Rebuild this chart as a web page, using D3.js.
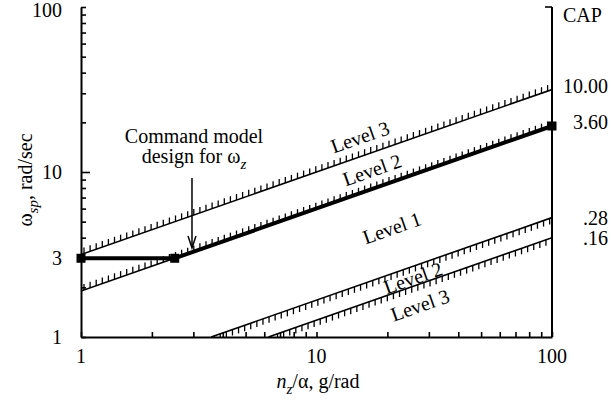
<!DOCTYPE html>
<html>
<head>
<meta charset="utf-8">
<script src="https://cdn.jsdelivr.net/npm/d3@7"></script>
<style>
  body { margin: 0; background: #fff; }
  text { font-family: "Liberation Serif", "Times New Roman", serif; fill: #000; }
</style>
</head>
<body>
<svg id="chart" width="611" height="404"></svg>
<script>
// CAP boundary lines (omega_sp vs n_z/alpha), straight in log-log
const capLabels = ["10.00", "3.60", ".28", ".16"];
const capStartN = [1, 1, 3.57, 6.25];
const capStartW = [3.16, 1.9, 1, 1];
const capEndN   = [100, 100, 100, 100];
const capEndW   = [31.6, 19, 5.29, 4];

// Command model design path
const cmdN = [1, 2.5, 100];
const cmdW = [3, 3, 19];

// Axis tick labels
const xTickLabels = [1, 10, 100];
const yTickLabels = [1, 3, 10, 100];

// Flying-quality level annotations
const levelText = ["Level 3", "Level 2", "Level 1", "Level 2", "Level 3"];

const svg = d3.select("#chart");
const FS = 20;

const x = d3.scaleLog().domain([1, 100]).range([81, 552]);
const y = d3.scaleLog().domain([1, 100]).range([337, 7]);

const minor = [];
[1, 10].forEach(d => { for (let k = 1; k <= 9; k++) minor.push(d * k); });
minor.push(100);

// Left axis (ticks pointing inward)
const gL = svg.append("g").attr("transform", `translate(${x(1)},0)`)
  .call(d3.axisRight(y).tickValues(minor).tickSize(5).tickSizeOuter(0).tickFormat(""));
gL.selectAll(".tick line").attr("x2", d => (d === 10 ? 9 : 5));
// Bottom axis
const gB = svg.append("g").attr("transform", `translate(0,${y(1)})`)
  .call(d3.axisTop(x).tickValues(minor).tickSize(5).tickSizeOuter(0).tickFormat(""));
[gL, gB].forEach(g => {
  g.select(".domain").attr("stroke-width", 2).attr("stroke", "#000");
  g.selectAll(".tick line").attr("stroke-width", 1.6).attr("stroke", "#000");
});
// Right axis with a tick at the top
svg.append("line").attr("x1", x(100)).attr("x2", x(100))
  .attr("y1", y(100)).attr("y2", y(1)).attr("stroke", "#000").attr("stroke-width", 2);
svg.append("line").attr("x1", x(100) - 7).attr("x2", x(100))
  .attr("y1", y(100)).attr("y2", y(100)).attr("stroke", "#000").attr("stroke-width", 1.6);

// Tick labels
svg.selectAll(".ylab").data(yTickLabels).enter().append("text")
  .attr("x", 62).attr("y", d => Math.max(y(d) + 7, 17)).attr("text-anchor", "end")
  .attr("font-size", FS).text(d => d);
svg.selectAll(".xlab").data(xTickLabels).enter().append("text")
  .attr("x", d => x(d)).attr("y", 363).attr("text-anchor", "middle")
  .attr("font-size", FS).text(d => d);

// Axis titles
const xt = svg.append("text").attr("x", 318).attr("y", 388)
  .attr("text-anchor", "middle").attr("font-size", FS);
xt.append("tspan").attr("font-style", "italic").text("n");
xt.append("tspan").attr("font-style", "italic").attr("font-size", 15).attr("dy", 6).text("z");
xt.append("tspan").attr("dy", -6).text("/\u03b1, g/rad");

const yt = svg.append("text").attr("transform", "translate(32,180) rotate(-90)")
  .attr("text-anchor", "middle").attr("font-size", FS);
yt.append("tspan").text("\u03c9");
yt.append("tspan").attr("font-style", "italic").attr("font-size", 15).attr("dy", 6).text("sp");
yt.append("tspan").attr("dy", -6).text(", rad/sec");

// Clip for hatching
svg.append("clipPath").attr("id", "plot").append("rect")
  .attr("x", x(1)).attr("y", 0).attr("width", x(100) - x(1)).attr("height", y(1));

// CAP boundary lines with hatching
const hatchSide = [-1, -1, 1, 1];
const gLines = svg.append("g").attr("clip-path", "url(#plot)");
capLabels.forEach((lab, i) => {
  const x0 = x(capStartN[i]), y0 = y(capStartW[i]);
  const x1 = x(capEndN[i]), y1 = y(capEndW[i]);
  gLines.append("line").attr("x1", x0).attr("y1", y0).attr("x2", x1).attr("y2", y1)
    .attr("stroke", "#000").attr("stroke-width", 1.6);
  const ticks = d3.range(x0 + 3, x1 - 1, 6.1).map(px => {
    const t = (px - x0) / (x1 - x0);
    return [px, y0 + t * (y1 - y0)];
  });
  gLines.selectAll(null).data(ticks).enter().append("line")
    .attr("x1", d => d[0]).attr("x2", d => d[0])
    .attr("y1", d => d[1]).attr("y2", d => d[1] + hatchSide[i] * 6)
    .attr("stroke", "#000").attr("stroke-width", 1.3);
  svg.append("text").attr("x", 608).attr("y", y1 + (i < 2 ? 3 : 7))
    .attr("text-anchor", "end").attr("font-size", FS).text(lab);
});
svg.append("text").attr("x", 563).attr("y", 22).attr("font-size", FS).text("CAP");

// Command model path with square markers
const cmdPts = cmdN.map((n, i) => [x(n), y(cmdW[i])]);
svg.append("path").attr("d", d3.line()(cmdPts))
  .attr("fill", "none").attr("stroke", "#000").attr("stroke-width", 4);
svg.selectAll(".sq").data(cmdPts).enter().append("rect")
  .attr("x", d => d[0] - 4.5).attr("y", d => d[1] - 4.5)
  .attr("width", 9).attr("height", 9).attr("fill", "#000");

// Level labels, rotated along the boundary slope
const ang = Math.atan2(y(10) - y(1), x(100) - x(1)) * 180 / Math.PI;
const levelN = [15.3, 17.2, 20.9, 25.7, 27.5];
const levelW = [16.3, 10.3, 4.58, 2.28, 1.56];
levelText.forEach((t, i) => {
  svg.append("text")
    .attr("transform", `translate(${x(levelN[i])},${y(levelW[i])}) rotate(${ang})`)
    .attr("text-anchor", "middle").attr("dy", "0.35em")
    .attr("font-size", FS).text(t);
});

// Command model annotation with arrow
const ax = x(2.96);
svg.append("line").attr("x1", ax).attr("x2", ax).attr("y1", 178).attr("y2", 247)
  .attr("stroke", "#000").attr("stroke-width", 1.5);
svg.append("path").attr("d", `M${ax - 4},236 L${ax},248 L${ax + 4},236`)
  .attr("fill", "none").attr("stroke", "#000").attr("stroke-width", 1.5);
svg.append("text").attr("x", 194).attr("y", 143).attr("text-anchor", "middle")
  .attr("font-size", FS).text("Command model");
const t2 = svg.append("text").attr("x", 194).attr("y", 163).attr("text-anchor", "middle")
  .attr("font-size", FS);
t2.append("tspan").text("design for \u03c9");
t2.append("tspan").attr("font-style", "italic").attr("font-size", 15).attr("dy", 6).text("z");
</script>
</body>
</html>
